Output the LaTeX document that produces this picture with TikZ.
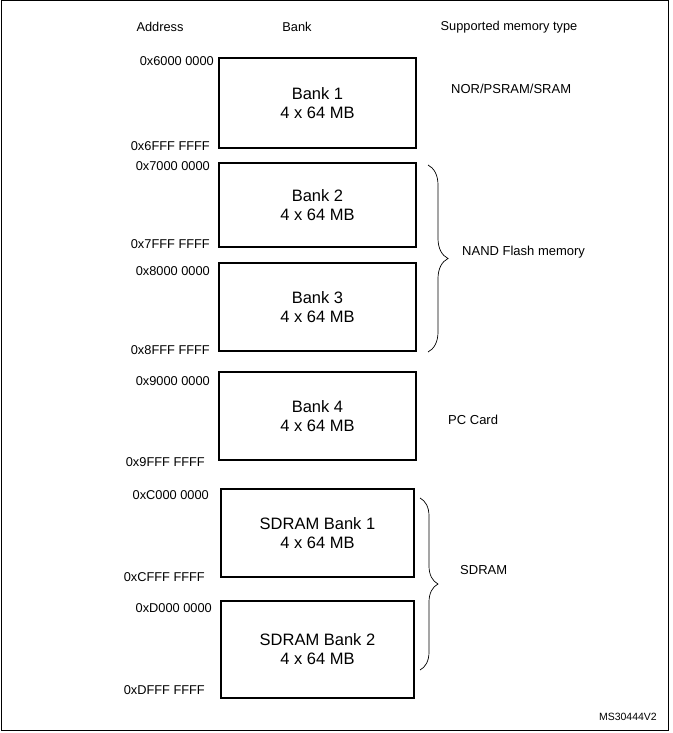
\documentclass[tikz,border=0pt]{standalone}
\usepackage{fontspec}
\setmainfont{Liberation Sans}
\usetikzlibrary{decorations.pathreplacing}
\begin{document}
\begin{tikzpicture}[x=1pt,y=-1pt,
  bankbox/.style={draw,line width=2pt,align=center,inner sep=0pt,
    font=\fontsize{16.5}{19}\selectfont},
  addr/.style={anchor=east,inner sep=0pt,font=\fontsize{12.8}{14}\selectfont},
  hdr/.style={inner sep=0pt,font=\fontsize{12.8}{14}\selectfont},
  memtype/.style={anchor=west,inner sep=0pt,font=\fontsize{13}{15}\selectfont},
  bracebig/.style={decorate,decoration={brace,amplitude=20pt},line width=0.7pt}]
\useasboundingbox (0,0) rectangle (672,733);
\draw[line width=1pt] (1,1) rectangle (668,730);
% headers
\node[hdr] (hA) at (160,27) {Address};
\node[hdr] (hB) at (297,27) {Bank};
\node[hdr] (hM) at (509,27) {Supported memory type};
% banks
\node[bankbox,minimum width=197pt,minimum height=90pt] (b1) at (317.5,103) {Bank 1\\4 x 64 MB};
\node[bankbox,minimum width=197pt,minimum height=84pt] (b2) at (317.5,205) {Bank 2\\4 x 64 MB};
\node[bankbox,minimum width=197pt,minimum height=88pt] (b3) at (317.5,307) {Bank 3\\4 x 64 MB};
\node[bankbox,minimum width=197pt,minimum height=88pt] (b4) at (317.5,416) {Bank 4\\4 x 64 MB};
\node[bankbox,minimum width=193pt,minimum height=88pt] (s1) at (317.5,533) {SDRAM Bank 1\\4 x 64 MB};
\node[bankbox,minimum width=193pt,minimum height=97pt] (s2) at (317.5,649.5) {SDRAM Bank 2\\4 x 64 MB};
% addresses
\node[addr] (a1) at (214,61) {0x6000 0000};
\node[addr] (a2) at (210,146) {0x6FFF FFFF};
\node[addr] (a3) at (210,166) {0x7000 0000};
\node[addr] (a4) at (210,244) {0x7FFF FFFF};
\node[addr] (a5) at (210,271) {0x8000 0000};
\node[addr] (a6) at (210,350) {0x8FFF FFFF};
\node[addr] (a7) at (210,381) {0x9000 0000};
\node[addr] (a8) at (205,462) {0x9FFF FFFF};
\node[addr] (a9) at (209,495) {0xC000 0000};
\node[addr] (a10) at (205,577) {0xCFFF FFFF};
\node[addr] (a11) at (212,608) {0xD000 0000};
\node[addr] (a12) at (205,690) {0xDFFF FFFF};
% memory types
\node[memtype] (m1) at (451,89) {NOR/PSRAM/SRAM};
\node[memtype] (m2) at (462,252) {NAND Flash memory};
\node[memtype] (m3) at (448,420) {PC Card};
\node[memtype] (m4) at (460,570) {SDRAM};
% braces
\coordinate (n1) at (428,165);
\coordinate (n2) at (428,352);
\coordinate (s1t) at (420,498);
\coordinate (s2b) at (420,670);
\draw[bracebig] (n1) -- (n2);
\draw[decorate,decoration={brace,amplitude=18pt},line width=0.7pt] (s1t) -- (s2b);
\node[anchor=east,inner sep=0pt,font=\fontsize{10.5}{12}\selectfont] (id) at (657,717) {MS30444V2};
\end{tikzpicture}
\end{document}
